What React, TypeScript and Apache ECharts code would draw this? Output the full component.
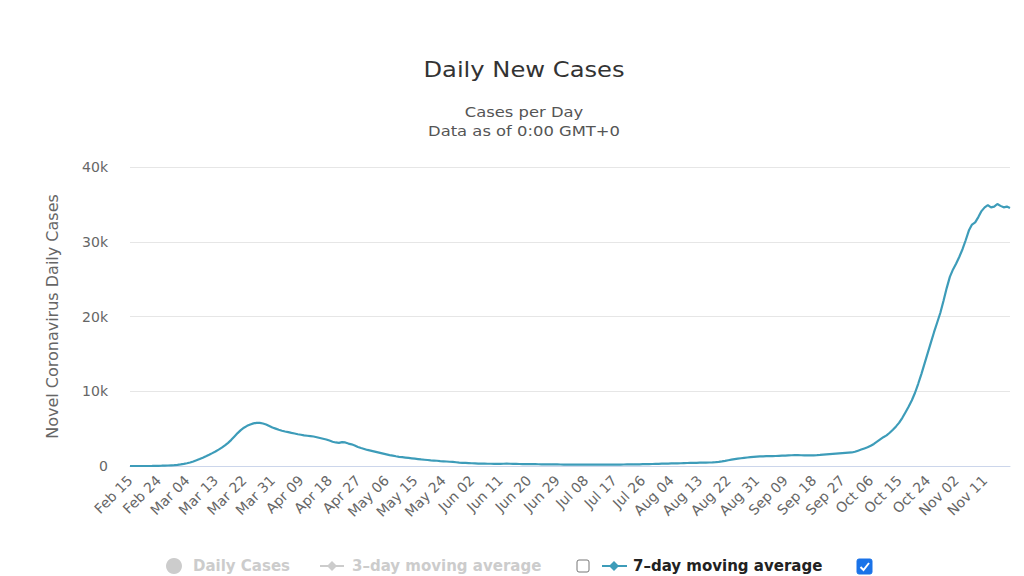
import React, { useEffect, useRef } from "react";
import * as echarts from "echarts";

// 7-day moving average of daily new cases, one value per day from Feb 15
const febValues = [0, 0, 0, 0, 0, 0, 3, 10, 20, 30, 40, 55, 70, 90, 110];
const marValues = [160, 220, 290, 370, 470, 600, 760, 930, 1110, 1300, 1500, 1720, 1950, 2190, 2450, 2750, 3100, 3500, 3950, 4400, 4800, 5120, 5370, 5560, 5700, 5780, 5760, 5680, 5550, 5350, 5150];
const aprValues = [5000, 4850, 4720, 4620, 4530, 4430, 4350, 4250, 4180, 4100, 4050, 4000, 3950, 3850, 3750, 3650, 3550, 3400, 3250, 3150, 3100, 3200, 3150, 3000, 2900, 2750, 2550, 2400, 2280, 2150];
const mayValues = [2050, 1950, 1850, 1750, 1650, 1550, 1450, 1380, 1300, 1230, 1180, 1130, 1080, 1030, 980, 930, 880, 840, 800, 760, 730, 700, 660, 630, 600, 570, 540, 500, 460, 430, 410];
const junValues = [390, 370, 350, 330, 320, 310, 300, 300, 295, 290, 290, 300, 310, 300, 290, 280, 270, 260, 255, 250, 245, 240, 235, 230, 225, 220, 215, 210, 205, 200];
const julValues = [195, 190, 190, 185, 185, 180, 180, 180, 175, 175, 175, 175, 180, 180, 185, 185, 190, 190, 195, 200, 205, 210, 215, 220, 230, 240, 250, 260, 270, 280, 290];
const augValues = [310, 320, 330, 340, 350, 360, 370, 385, 400, 410, 420, 430, 440, 450, 460, 470, 490, 520, 560, 620, 690, 770, 850, 920, 980, 1040, 1090, 1140, 1190, 1230, 1260];
const sepValues = [1280, 1300, 1310, 1320, 1330, 1340, 1360, 1380, 1400, 1420, 1440, 1450, 1450, 1440, 1430, 1420, 1420, 1430, 1450, 1480, 1520, 1560, 1600, 1630, 1660, 1690, 1720, 1750, 1780, 1810];
const octValues = [1900, 2050, 2200, 2350, 2500, 2700, 2950, 3250, 3550, 3850, 4100, 4450, 4850, 5300, 5800, 6450, 7200, 7950, 8800, 9800, 11000, 12300, 13700, 15100, 16500, 17900, 19200, 20500, 22100, 23800, 25300];
const novValues = [26300, 27100, 28000, 29000, 30200, 31500, 32300, 32600, 33300, 34100, 34600, 34900, 34600, 34700, 35050, 34800, 34600, 34700, 34500];

const monthNames = ["Feb", "Mar", "Apr", "May", "Jun", "Jul", "Aug", "Sep", "Oct", "Nov"];
const monthStartDay = [15, 1, 1, 1, 1, 1, 1, 1, 1, 1];
const monthSeries = [febValues, marValues, aprValues, mayValues, junValues, julValues, augValues, sepValues, octValues, novValues];

const yTicks = [0, 10000, 20000, 30000, 40000];

const titleText = "Daily New Cases";
const subtitleLines = ["Cases per Day", "Data as of 0:00 GMT+0"];
const yAxisTitle = "Novel Coronavirus Daily Cases";
const legendNames = ["Daily Cases", "3\u2013day moving average", "7\u2013day moving average"];

const FONT = "DejaVu Sans";
const LINE = "#3d9cb9";

export default function App() {
  const ref = useRef<HTMLDivElement>(null);

  useEffect(() => {
    if (!ref.current) return;
    const chart = echarts.init(ref.current, null, { renderer: "svg" });

    const dates: string[] = [];
    const values: number[] = [];
    monthSeries.forEach((arr, m) => {
      arr.forEach((v, i) => {
        const d = monthStartDay[m] + i;
        dates.push(monthNames[m] + " " + (d < 10 ? "0" + d : String(d)));
        values.push(v);
      });
    });

    const legendY = 566;
    const legendFont = `bold 15px "${FONT}"`;

    chart.setOption({
      animation: false,
      backgroundColor: "#ffffff",
      textStyle: { fontFamily: FONT },
      grid: { left: 130, right: 14, top: 167, bottom: 110, containLabel: false },
      xAxis: {
        type: "category",
        data: dates,
        boundaryGap: false,
        axisLine: { lineStyle: { color: "#ccd6eb" } },
        axisTick: { show: false },
        axisLabel: {
          interval: 8,
          rotate: 45,
          color: "#666666",
          fontSize: 14,
          fontFamily: FONT,
          margin: 12,
        },
        splitLine: { show: false },
      },
      yAxis: {
        type: "value",
        min: yTicks[0],
        max: yTicks[yTicks.length - 1],
        interval: 10000,
        axisLine: { show: false },
        axisTick: { show: false },
        splitLine: { lineStyle: { color: "#e6e6e6" } },
        axisLabel: {
          color: "#666666",
          fontSize: 14,
          fontFamily: FONT,
          margin: 22,
          formatter: (v: number) => (v === 0 ? "0" : v / 1000 + "k"),
        },
        name: yAxisTitle,
        nameLocation: "middle",
        nameGap: 70,
        nameTextStyle: { color: "#666666", fontSize: 16, fontFamily: FONT },
      },
      series: [
        {
          type: "line",
          name: legendNames[2],
          data: values,
          showSymbol: false,
          symbol: "none",
          lineStyle: { color: LINE, width: 2.2 },
          itemStyle: { color: LINE },
        },
      ],
      graphic: [
        {
          type: "text",
          x: 524,
          y: 69,
          scaleX: 1.1,
          style: {
            text: titleText,
            fill: "#333333",
            font: `22px "${FONT}"`,
            textAlign: "center",
            textVerticalAlign: "middle",
          },
        },
        {
          type: "text",
          x: 524,
          y: 112,
          scaleX: 1.17,
          style: {
            text: subtitleLines[0],
            fill: "#555555",
            font: `14px "${FONT}"`,
            textAlign: "center",
            textVerticalAlign: "middle",
          },
        },
        {
          type: "text",
          x: 524,
          y: 131,
          scaleX: 1.17,
          style: {
            text: subtitleLines[1],
            fill: "#555555",
            font: `14px "${FONT}"`,
            textAlign: "center",
            textVerticalAlign: "middle",
          },
        },
        // legend: Daily Cases
        { type: "circle", shape: { cx: 174, cy: legendY, r: 8 }, style: { fill: "#cccccc" } },
        {
          type: "text",
          x: 193,
          y: legendY,
          style: { text: legendNames[0], fill: "#cccccc", font: legendFont, textAlign: "left", textVerticalAlign: "middle" },
        },
        // legend: 3-day
        { type: "line", shape: { x1: 320, y1: legendY, x2: 344, y2: legendY }, style: { stroke: "#cccccc", lineWidth: 2 } },
        { type: "polygon", shape: { points: [[332, legendY - 5], [337, legendY], [332, legendY + 5], [327, legendY]] }, style: { fill: "#cccccc" } },
        {
          type: "text",
          x: 352,
          y: legendY,
          style: { text: legendNames[1], fill: "#cccccc", font: legendFont, textAlign: "left", textVerticalAlign: "middle" },
        },
        // checkbox unchecked
        { type: "rect", shape: { x: 577, y: legendY - 6, width: 12, height: 12, r: 2 }, style: { fill: "#ffffff", stroke: "#777777", lineWidth: 1 } },
        // legend: 7-day
        { type: "line", shape: { x1: 602, y1: legendY, x2: 627, y2: legendY }, style: { stroke: LINE, lineWidth: 2 } },
        { type: "polygon", shape: { points: [[614, legendY - 5], [619, legendY], [614, legendY + 5], [609, legendY]] }, style: { fill: LINE } },
        {
          type: "text",
          x: 633,
          y: legendY,
          style: { text: legendNames[2], fill: "#222222", font: legendFont, textAlign: "left", textVerticalAlign: "middle" },
        },
        // checkbox checked
        { type: "rect", shape: { x: 857, y: legendY - 7, width: 15, height: 15, r: 2 }, style: { fill: "#1a73e8", stroke: "#1a73e8", lineWidth: 1 } },
        { type: "polyline", shape: { points: [[860.5, legendY + 1], [863.5, legendY + 4], [869, legendY - 3]] }, style: { stroke: "#ffffff", lineWidth: 2, fill: "none" } },
      ],
    });

    return () => chart.dispose();
  }, []);

  return (
    <div
      ref={ref}
      style={{ position: "fixed", left: 0, top: 0, width: 1024, height: 576, background: "#fff" }}
    />
  );
}
